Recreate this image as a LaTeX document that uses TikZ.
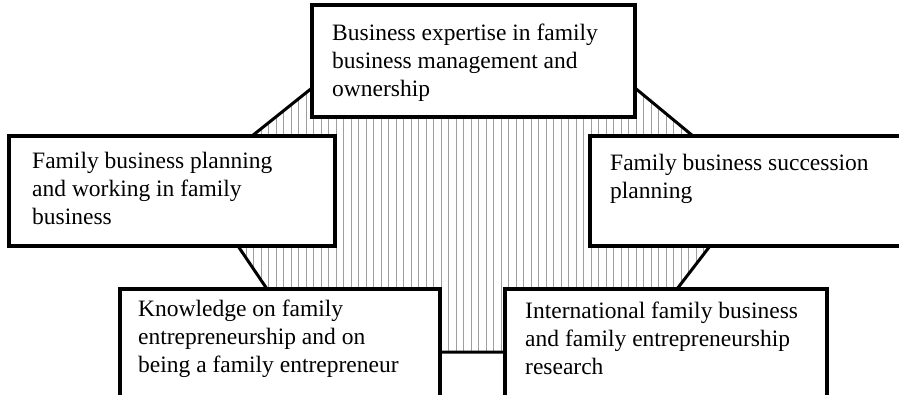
\documentclass[tikz,border=0pt]{standalone}
\usepackage{fontspec}
\setmainfont{Liberation Serif}

\begin{document}
\begin{tikzpicture}[x=1pt,y=-1pt,
		topic/.style={draw, line width=4pt, fill=white},
		txt/.style={anchor=north west, inner sep=0pt, align=left, font=\fontsize{23.5}{28}\selectfont}]
		\useasboundingbox (0,0) rectangle (899,394);
		\clip (0,0) rectangle (899,394);
		% hatched octagon behind the boxes
		\begin{scope}
			\clip (252,136) -- (312,88) -- (635,88) -- (693,136) -- (710,246) -- (677,289) -- (629,352) -- (310,352) -- (267,289) -- (238,246) -- cycle;
			\fill[white] (230,80) rectangle (720,360);
			\foreach \x in {231,238.5,...,716} \draw[gray!75, line width=1pt] (\x,80) -- (\x,360);
		\end{scope}
		\draw[line width=3pt, line join=round] (252,136) -- (312,88) -- (635,88) -- (693,136) -- (710,246) -- (677,289) -- (629,352) -- (310,352) -- (267,289) -- (238,246) -- cycle;
		% boxes
		\draw[topic] (312,5) rectangle (635,117);
		\draw[topic] (9,136) rectangle (335,246);
		\draw[topic] (590,136) rectangle (910,246);
		\draw[topic] (120,289) rectangle (440,410);
		\draw[topic] (505,289) rectangle (827,410);
		\node[txt] (expertise) at (332,24) {Business expertise in family\\business management and\\ownership};
		\node[txt] (planning) at (32,152) {Family business planning\\and working in family\\business};
		\node[txt] (succession) at (610,154) {Family business succession\\planning};
		\node[txt] (knowledge) at (138,300) {Knowledge on family\\entrepreneurship and on\\being a family entrepreneur};
		\node[txt] (research) at (525,302) {International family business\\and family entrepreneurship\\research};
	\end{tikzpicture}
\end{document}
